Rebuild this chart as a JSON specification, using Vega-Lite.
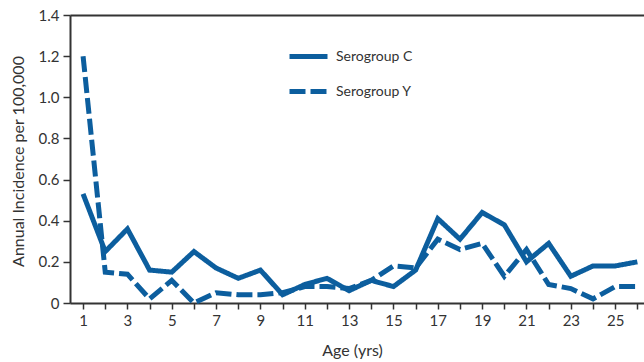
{
  "$schema": "https://vega.github.io/schema/vega-lite/v6.json",
  "width": 574,
  "height": 288,
  "autosize": {"type": "none"},
  "padding": {"left": 70, "top": 15, "right": 0, "bottom": 59},
  "background": "white",
  "config": {
    "view": {"stroke": null},
    "font": "Lato",
    "axis": {
      "domainColor": "#333333",
      "domainWidth": 2,
      "tickColor": "#333333",
      "tickWidth": 1.5,
      "tickSize": 6,
      "labelColor": "#333333",
      "labelFont": "Lato",
      "labelFontSize": 15,
      "titleFont": "Lato",
      "titleColor": "#333333",
      "titleFontSize": 16,
      "titleFontWeight": "normal",
      "grid": false
    }
  },
  "data": {
    "values": [
      {"age": 1, "serogroup": "Serogroup C", "incidence": 0.53},
      {"age": 2, "serogroup": "Serogroup C", "incidence": 0.25},
      {"age": 3, "serogroup": "Serogroup C", "incidence": 0.36},
      {"age": 4, "serogroup": "Serogroup C", "incidence": 0.16},
      {"age": 5, "serogroup": "Serogroup C", "incidence": 0.15},
      {"age": 6, "serogroup": "Serogroup C", "incidence": 0.25},
      {"age": 7, "serogroup": "Serogroup C", "incidence": 0.17},
      {"age": 8, "serogroup": "Serogroup C", "incidence": 0.12},
      {"age": 9, "serogroup": "Serogroup C", "incidence": 0.16},
      {"age": 10, "serogroup": "Serogroup C", "incidence": 0.04},
      {"age": 11, "serogroup": "Serogroup C", "incidence": 0.09},
      {"age": 12, "serogroup": "Serogroup C", "incidence": 0.12},
      {"age": 13, "serogroup": "Serogroup C", "incidence": 0.06},
      {"age": 14, "serogroup": "Serogroup C", "incidence": 0.11},
      {"age": 15, "serogroup": "Serogroup C", "incidence": 0.08},
      {"age": 16, "serogroup": "Serogroup C", "incidence": 0.16},
      {"age": 17, "serogroup": "Serogroup C", "incidence": 0.41},
      {"age": 18, "serogroup": "Serogroup C", "incidence": 0.31},
      {"age": 19, "serogroup": "Serogroup C", "incidence": 0.44},
      {"age": 20, "serogroup": "Serogroup C", "incidence": 0.38},
      {"age": 21, "serogroup": "Serogroup C", "incidence": 0.2},
      {"age": 22, "serogroup": "Serogroup C", "incidence": 0.29},
      {"age": 23, "serogroup": "Serogroup C", "incidence": 0.13},
      {"age": 24, "serogroup": "Serogroup C", "incidence": 0.18},
      {"age": 25, "serogroup": "Serogroup C", "incidence": 0.18},
      {"age": 26, "serogroup": "Serogroup C", "incidence": 0.2},
      {"age": 1, "serogroup": "Serogroup Y", "incidence": 1.2},
      {"age": 2, "serogroup": "Serogroup Y", "incidence": 0.15},
      {"age": 3, "serogroup": "Serogroup Y", "incidence": 0.14},
      {"age": 4, "serogroup": "Serogroup Y", "incidence": 0.02},
      {"age": 5, "serogroup": "Serogroup Y", "incidence": 0.11},
      {"age": 6, "serogroup": "Serogroup Y", "incidence": 0.0},
      {"age": 7, "serogroup": "Serogroup Y", "incidence": 0.05},
      {"age": 8, "serogroup": "Serogroup Y", "incidence": 0.04},
      {"age": 9, "serogroup": "Serogroup Y", "incidence": 0.04},
      {"age": 10, "serogroup": "Serogroup Y", "incidence": 0.05},
      {"age": 11, "serogroup": "Serogroup Y", "incidence": 0.08},
      {"age": 12, "serogroup": "Serogroup Y", "incidence": 0.08},
      {"age": 13, "serogroup": "Serogroup Y", "incidence": 0.07},
      {"age": 14, "serogroup": "Serogroup Y", "incidence": 0.11},
      {"age": 15, "serogroup": "Serogroup Y", "incidence": 0.18},
      {"age": 16, "serogroup": "Serogroup Y", "incidence": 0.17},
      {"age": 17, "serogroup": "Serogroup Y", "incidence": 0.31},
      {"age": 18, "serogroup": "Serogroup Y", "incidence": 0.26},
      {"age": 19, "serogroup": "Serogroup Y", "incidence": 0.29},
      {"age": 20, "serogroup": "Serogroup Y", "incidence": 0.13},
      {"age": 21, "serogroup": "Serogroup Y", "incidence": 0.26},
      {"age": 22, "serogroup": "Serogroup Y", "incidence": 0.09},
      {"age": 23, "serogroup": "Serogroup Y", "incidence": 0.07},
      {"age": 24, "serogroup": "Serogroup Y", "incidence": 0.02},
      {"age": 25, "serogroup": "Serogroup Y", "incidence": 0.08},
      {"age": 26, "serogroup": "Serogroup Y", "incidence": 0.08}
    ]
  },
  "layer": [
    {
      "mark": {"type": "line", "strokeWidth": 5, "color": "#0c5e9e", "strokeJoin": "miter", "strokeCap": "butt"},
      "encoding": {
        "x": {
          "field": "age",
          "type": "quantitative",
          "scale": {"domain": [0.41, 26.3], "nice": false, "zero": false},
          "axis": {
            "orient": "bottom",
            "values": [1,2,3,4,5,6,7,8,9,10,11,12,13,14,15,16,17,18,19,20,21,22,23,24,25,26],
            "labelExpr": "datum.value % 2 == 1 ? datum.label : ''",
            "labelPadding": 4,
            "title": "Age (yrs)",
            "titleX": 282,
            "titleY": 47,
            "titleBaseline": "middle"
          }
        },
        "y": {
          "field": "incidence",
          "type": "quantitative",
          "scale": {"domain": [0, 1.4], "nice": false},
          "axis": {
            "values": [0, 0.2, 0.4, 0.6, 0.8, 1.0, 1.2, 1.4],
            "labelExpr": "datum.value == 0 ? '0' : format(datum.value, '.1f')",
            "tickSize": 7,
            "labelPadding": 4,
            "title": "Annual Incidence per 100,000",
            "titleX": -52,
            "titleY": 146,
            "titleAngle": 270,
            "titleAlign": "center",
            "titleBaseline": "middle"
          }
        },
        "strokeDash": {
          "field": "serogroup",
          "type": "nominal",
          "scale": {"domain": ["Serogroup C", "Serogroup Y"], "range": [[1, 0], [16, 5]]},
          "legend": {
            "title": null,
            "orient": "none",
            "legendX": 217,
            "legendY": 25,
            "padding": 0,
            "symbolType": "stroke",
            "symbolSize": 1444,
            "symbolStrokeWidth": 5,
            "symbolStrokeColor": "#0c5e9e",
            "labelFont": "Lato",
            "labelFontSize": 14,
            "labelColor": "#333333",
            "labelOffset": 6,
            "clipHeight": 33,
            "rowPadding": 2
          }
        }
      }
    },
    {
      "mark": {"type": "line", "opacity": 0},
      "encoding": {
        "x": {
          "field": "age",
          "type": "quantitative",
          "axis": {"orient": "top", "labels": false, "ticks": false, "title": null, "domain": true}
        },
        "y": {"field": "incidence", "type": "quantitative"}
      }
    }
  ]
}
